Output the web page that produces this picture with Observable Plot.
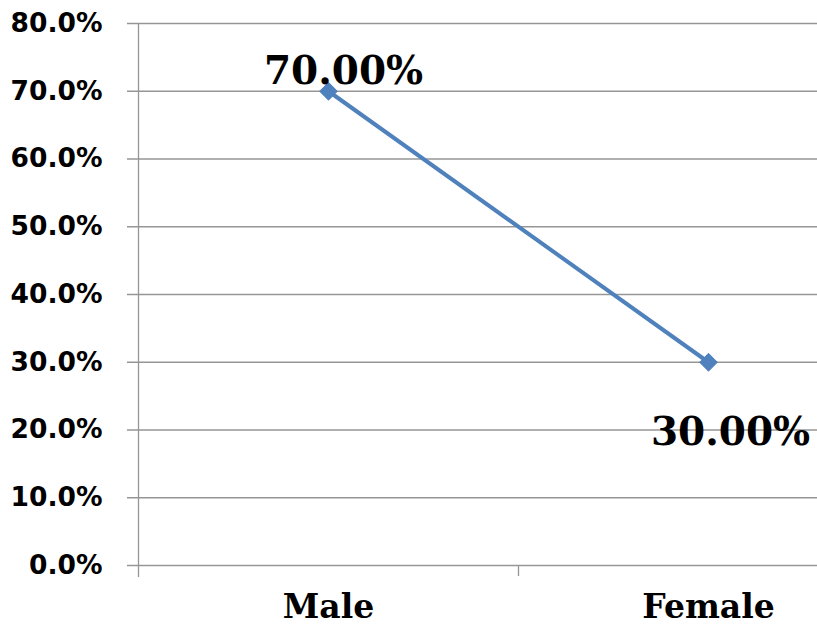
<!DOCTYPE html>
<html>
<head>
<meta charset="utf-8">
<script src="https://cdn.jsdelivr.net/npm/d3@7"></script>
<script src="https://cdn.jsdelivr.net/npm/@observablehq/plot@0.6"></script>
<style>
  html, body { margin: 0; padding: 0; background: #fff; }
  #chart svg { display: block; }
</style>
</head>
<body>
<div id="chart"></div>
<script>
const categories = ["Male", "Female"];
const values = [0.70, 0.30];
const yTicks = [0, 0.1, 0.2, 0.3, 0.4, 0.5, 0.6, 0.7, 0.8];

const data = categories.map((c, i) => ({cat: c, idx: i, value: values[i]}));
const lineColor = "#4F81BD";
const gridColor = "#969696";
const serif = "'DejaVu Serif', serif";

const chart = Plot.plot({
  width: 817,
  height: 626,
  marginLeft: 138,
  marginRight: 0,
  marginTop: 23,
  marginBottom: 61,
  style: {background: "#fff", overflow: "visible"},
  x: {type: "linear", domain: [-0.5, 1.5], range: [138, 898]},
  y: {domain: [0, 0.8]},
  marks: [
    Plot.ruleY(yTicks, {stroke: gridColor, strokeWidth: 1.3, insetLeft: -11}),
    Plot.ruleX([-0.5], {y1: 0.8, y2: 0, stroke: gridColor, strokeWidth: 1.3, insetBottom: -12}),
    Plot.ruleX([0.5], {y1: 0, y2: 0, stroke: gridColor, strokeWidth: 1.3, insetBottom: -11}),
    Plot.axisY({
      ticks: yTicks,
      tickFormat: d3.format(".1%"),
      tickSize: 0,
      tickPadding: 36,
      fontSize: 26.5,
      fontWeight: "bold",
      fontFamily: "'DejaVu Sans', sans-serif",
      fill: "#000",
      label: null
    }),
    Plot.axisX({
      ticks: data.map(d => d.idx),
      tickFormat: i => categories[i],
      tickSize: 0,
      tickPadding: 29,
      fontSize: 33,
      fontWeight: "bold",
      fontFamily: serif,
      fill: "#000",
      label: null
    }),
    Plot.line(data, {x: "idx", y: "value", stroke: lineColor, strokeWidth: 4}),
    Plot.dot(data, {x: "idx", y: "value", symbol: "diamond2", r: 8, fill: lineColor, stroke: lineColor, strokeWidth: 1}),
    Plot.text(data.filter(d => d.cat === "Male"), {
      x: "idx", y: "value", text: d => d3.format(".2%")(d.value),
      dx: 15, dy: -7, lineAnchor: "bottom",
      fontSize: 39, fontWeight: "bold", fontFamily: serif, fill: "#000"
    }),
    Plot.text(data.filter(d => d.cat === "Female"), {
      x: "idx", y: "value", text: d => d3.format(".2%")(d.value),
      dx: 22, dy: 83, lineAnchor: "bottom",
      fontSize: 39, fontWeight: "bold", fontFamily: serif, fill: "#000"
    })
  ]
});
document.getElementById("chart").appendChild(chart);
</script>
</body>
</html>
